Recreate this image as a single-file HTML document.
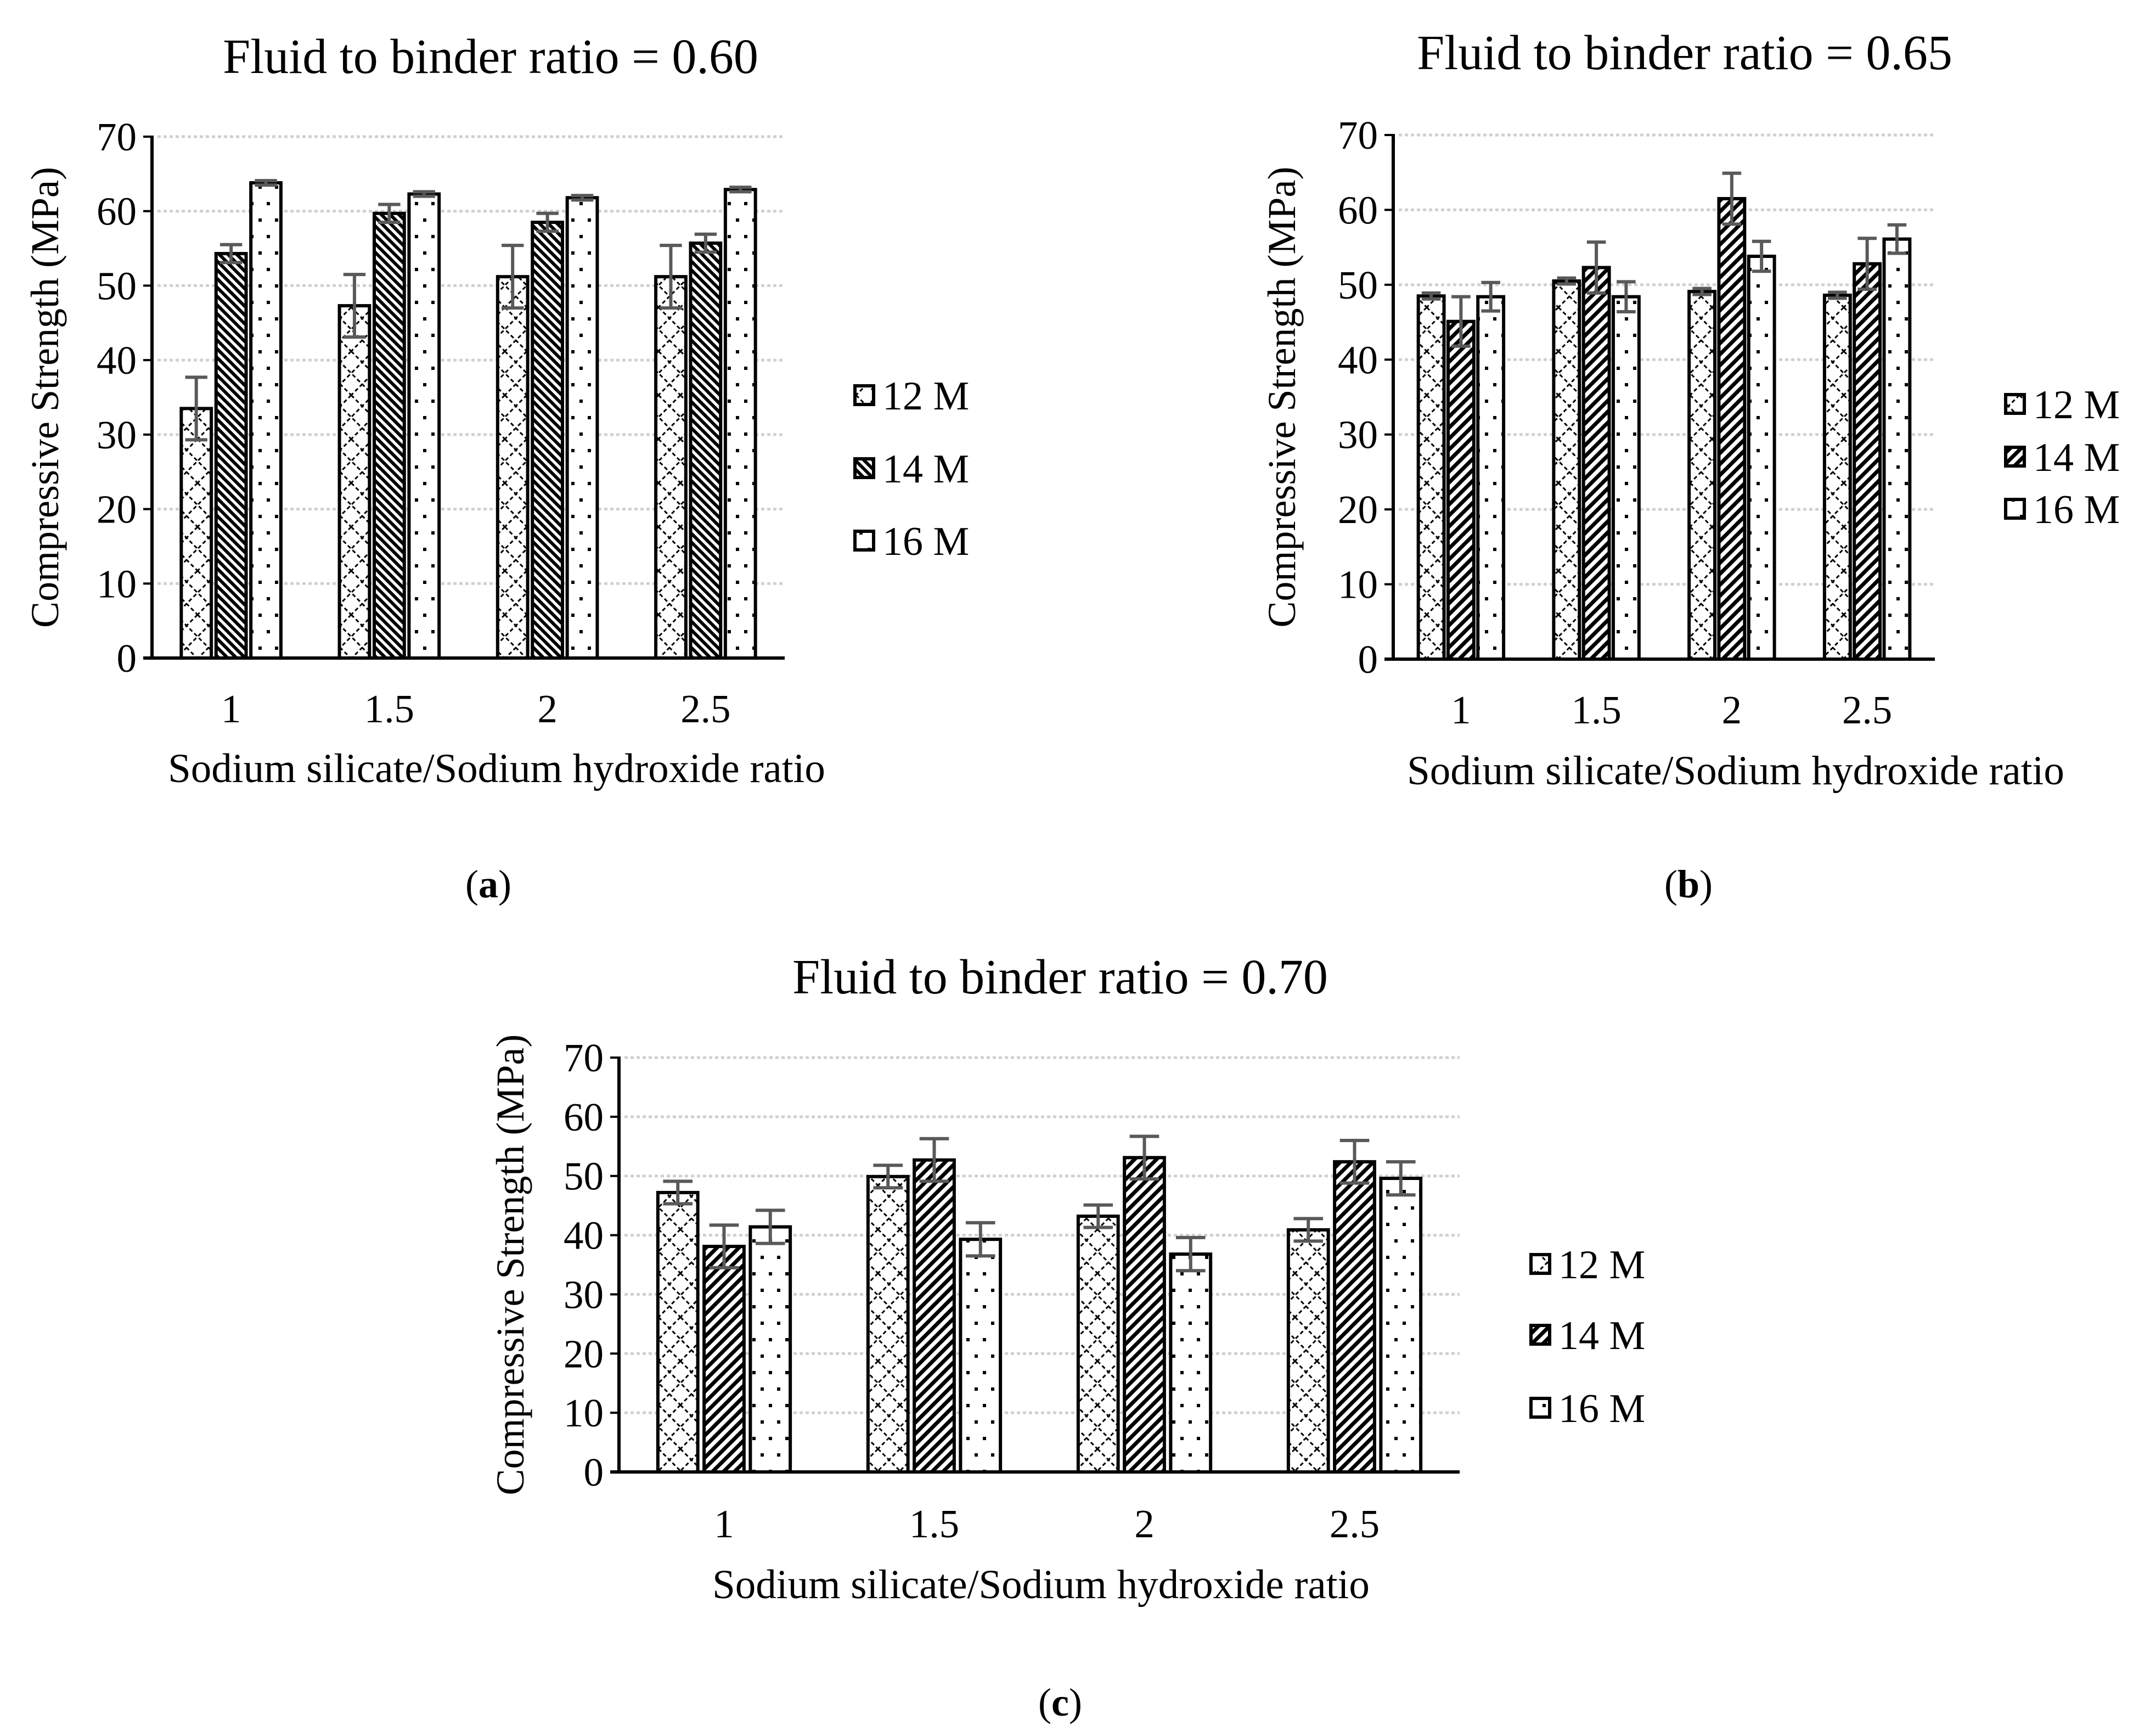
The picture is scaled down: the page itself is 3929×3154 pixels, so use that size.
<!DOCTYPE html>
<html><head><meta charset="utf-8"><style>
html,body{margin:0;padding:0;background:#fff;}
svg{display:block;font-family:"Liberation Serif",serif;}
</style></head><body>
<svg id="fig" width="3929" height="3154" viewBox="0 0 3929 3154" xmlns="http://www.w3.org/2000/svg">
<defs>
<pattern id="pCross" patternUnits="userSpaceOnUse" width="40" height="80"><path d="M0 0 L40 40 L0 80 M40 0 L0 40 L40 80" stroke="#000" stroke-width="3" stroke-dasharray="7 5" fill="none"/></pattern>
<pattern id="pStripeA" patternUnits="userSpaceOnUse" width="16" height="16"><path d="M-4 -4 L20 20 M-4 12 L4 20 M12 -4 L20 4" stroke="#000" stroke-width="6" fill="none"/></pattern>
<pattern id="pStripeB" patternUnits="userSpaceOnUse" width="20" height="20"><path d="M-4 24 L24 -4 M-4 4 L4 -4 M16 24 L24 16" stroke="#000" stroke-width="7" fill="none"/></pattern>
<pattern id="pDots" patternUnits="userSpaceOnUse" width="30" height="60"><rect x="6" y="8" width="6" height="6" fill="#000"/><rect x="21" y="38" width="6" height="6" fill="#000"/></pattern>
</defs>
<g id="root"></g>
</svg>
<script>
const categories = ["1","1.5","2","2.5"];
const seriesNames = ["12 M","14 M","16 M"];
const yTicks = [0,10,20,30,40,50,60,70];
const titleA = "Fluid to binder ratio = 0.60";
const titleB = "Fluid to binder ratio = 0.65";
const titleC = "Fluid to binder ratio = 0.70";
const a12 = [33.5,47.3,51.2,51.2], a12e = [4.2,4.2,4.2,4.2];
const a14 = [54.3,59.7,58.5,55.7], a14e = [1.2,1.2,1.2,1.2];
const a16 = [63.8,62.3,61.8,62.9], a16e = [0.3,0.3,0.3,0.3];
const b12 = [48.5,50.5,49.1,48.6], b12e = [0.4,0.4,0.4,0.4];
const b14 = [45.1,52.3,61.5,52.8], b14e = [3.3,3.4,3.4,3.4];
const b16 = [48.4,48.4,53.8,56.1], b16e = [1.9,2.0,2.0,1.9];
const c12 = [47.2,49.9,43.2,40.9], c12e = [1.9,1.9,1.9,1.9];
const c14 = [38.1,52.7,53.1,52.4], c14e = [3.6,3.6,3.6,3.6];
const c16 = [41.4,39.3,36.8,49.6], c16e = [2.8,2.8,2.8,2.8];

const NS="http://www.w3.org/2000/svg";
const root=document.getElementById('root');
function mk(tag,attrs,parent){const e=document.createElementNS(NS,tag);for(const k in attrs)e.setAttribute(k,attrs[k]);(parent||root).appendChild(e);return e;}

function chart(id,cfg,vals,errs,title,panel){
  const g=mk('g',{});
  
  
  const y=v=>cfg.y0-(v/70)*(cfg.y0-cfg.y70);
  const cw=(cfg.x1-cfg.x0)/categories.length;
  const fills=['url(#pCross)',cfg.stripe,'url(#pDots)'];
  yTicks.forEach(t=>{
    if(t>0){const l=mk('line',{x1:cfg.x0+10,x2:cfg.x1,y1:y(t),y2:y(t),stroke:'#d0d0d0','stroke-width':5,'stroke-dasharray':'6 5'},g);
    
    }
    const tk=mk('line',{x1:cfg.x0-16,x2:cfg.x0,y1:y(t),y2:y(t),stroke:'#000','stroke-width':4},g);
    
    
    const tx=mk('text',{x:cfg.x0-28,y:y(t)+25,'font-size':73,'text-anchor':'end'},g);
    tx.textContent=t;
    
    
  });
  const bw=cw*0.19, step=cw*0.22;
  categories.forEach((c,i)=>{
    const cx=cfg.x0+cw*(i+0.5);
    for(let s=0;s<3;s++){
      const bx=cx+(s-1)*step-bw/2;
      const v=vals[s][i];
      const r=mk('rect',{x:bx,y:y(v),width:bw,height:cfg.y0-y(v),fill:'#fff',stroke:'none'},g);
      const r2=mk('rect',{x:bx,y:y(v),width:bw,height:cfg.y0-y(v),fill:fills[s],stroke:'#000','stroke-width':6},g);
      
      
      
      
      const e=errs[s][i], ex=bx+bw/2, cap=cw*0.07;
      const ep=mk('path',{d:`M${ex} ${y(v+e)} V${y(v-e)} M${ex-cap} ${y(v+e)} H${ex+cap} M${ex-cap} ${y(v-e)} H${ex+cap}`,stroke:'#595959','stroke-width':6,fill:'none'},g);
      
      
    }
    const tl=mk('text',{x:cx,y:cfg.xt,'font-size':73,'text-anchor':'middle'},g);
    tl.textContent=c;
    
    
  });
  const ax=mk('path',{d:`M${cfg.x0} ${cfg.y70-2} V${cfg.y0} M${cfg.x0-16} ${cfg.y0} H${cfg.x1}`,stroke:'#000','stroke-width':6,fill:'none'},g);
  
  
  const t=mk('text',{x:cfg.tx,y:cfg.ty+31,'font-size':90,'text-anchor':'middle'},g);
  t.textContent=title;
  
  
  const xl=mk('text',{x:cfg.xlx,y:cfg.xl+26,'font-size':75,'text-anchor':'middle'},g);
  xl.textContent='Sodium silicate/Sodium hydroxide ratio';
  
  
  const ym=(cfg.y0+cfg.y70)/2;
  const yl=mk('text',{x:cfg.yl+24,y:ym,'font-size':72,'text-anchor':'middle',transform:`rotate(-90 ${cfg.yl+24} ${ym})`},g);
  yl.textContent='Compressive Strength (MPa)';
  
  
  seriesNames.forEach((n,s)=>{
    const ly=cfg.ly[s];
    const lb=mk('rect',{x:cfg.lx,y:ly-17,width:34,height:34,fill:fills[s],stroke:'#000','stroke-width':6},g);
    
    
    const lt=mk('text',{x:cfg.lx+50,y:ly+26,'font-size':74},g);
    lt.textContent=n;
    
    
  });
  const pl=mk('text',{x:panel[1],y:panel[2],'font-size':72,'text-anchor':'middle'},g);
  pl.innerHTML='(<tspan font-weight="bold">'+panel[0]+'</tspan>)';
  
  
}
chart('a',{x0:277,x1:1430,y0:1199,y70:249,xt:1316,xl:1399,xlx:905,yl:82,tx:894,ty:102,lx:1558,ly:[720,853,985],stripe:'url(#pStripeA)'},[a12,a14,a16],[a12e,a14e,a16e],titleA,['a',890,1635]);
chart('b',{x0:2539,x1:3526,y0:1201,y70:246,xt:1318,xl:1403,xlx:3163,yl:2336,tx:3070,ty:95,lx:3655,ly:[736,832,927],stripe:'url(#pStripeB)'},[b12,b14,b16],[b12e,b14e,b16e],titleB,['b',3077,1635]);
chart('c',{x0:1128,x1:2660,y0:2682,y70:1927,xt:2801,xl:2886,xlx:1897,yl:930,tx:1932,ty:1779,lx:2790,ly:[2303,2432,2565],stripe:'url(#pStripeB)'},[c12,c14,c16],[c12e,c14e,c16e],titleC,['c',1932,3126]);
</script>
</body></html>
